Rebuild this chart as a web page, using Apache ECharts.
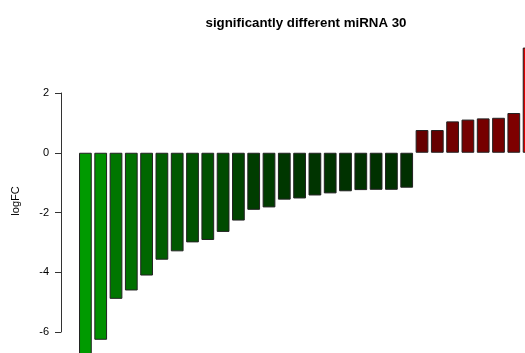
<!DOCTYPE html>
<html>
<head>
<meta charset="utf-8">
<script src="https://cdn.jsdelivr.net/npm/echarts@6/dist/echarts.min.js"></script>
<style>html,body{margin:0;padding:0;background:#fff}#c{width:525px;height:353px}</style>
</head>
<body>
<div id="c"></div>
<script>
var titleText = 'significantly different miRNA 30';
var yName = 'logFC';
var categories = [];
for (var i = 1; i <= 30; i++) categories.push('miRNA' + i);
var logFC = [-6.8, -6.26, -4.89, -4.61, -4.11, -3.58, -3.30, -3.00, -2.92, -2.65,
             -2.27, -1.91, -1.83, -1.57, -1.53, -1.43, -1.36, -1.29, -1.25, -1.24,
             -1.24, -1.17, 0.76, 0.76, 1.05, 1.11, 1.15, 1.17, 1.33, 3.52];
var yTicks = [-6, -4, -2, 0, 2];

function barColor(v) {
  var c;
  if (v < 0) {
    c = Math.min(255, Math.round(25 + 19 * Math.abs(v)));
    return 'rgb(0,' + c + ',0)';
  }
  c = Math.min(255, Math.round(69 + 43 * v));
  return 'rgb(' + c + ',0,0)';
}

var chart = echarts.init(document.getElementById('c'), null, {renderer: 'canvas'});
chart.setOption({
  animation: false,
  backgroundColor: '#fff',
  title: {
    text: titleText,
    left: 301, textAlign: 'center', top: 12,
    textStyle: {fontFamily: 'Liberation Sans', fontWeight: 'bold', fontSize: 13.3, color: '#000'}
  },
  graphic: [{
    type: 'text', x: 15.5, y: 201, rotation: Math.PI / 2,
    style: {text: yName, align: 'center', verticalAlign: 'middle',
            fontFamily: 'Liberation Sans', fontSize: 11, fill: '#000'}
  }],
  grid: {left: 77.75, top: 93, width: 459, height: 239, containLabel: false, outerBoundsMode: 'none'},
  xAxis: {
    type: 'category', data: categories, boundaryGap: true,
    axisLine: {show: false}, axisTick: {show: false}, axisLabel: {show: false}, splitLine: {show: false}
  },
  yAxis: {
    type: 'value', min: yTicks[0], max: yTicks[yTicks.length - 1], interval: 2,
    offset: 16.75,
    axisLine: {show: true, lineStyle: {color: '#333', width: 1}},
    axisTick: {show: true, length: 6, lineStyle: {color: '#333'}},
    axisLabel: {fontFamily: 'Liberation Sans', fontSize: 11, color: '#000', margin: 12},
    splitLine: {show: false}
  },
  series: [{
    type: 'bar',
    clip: false,
    barWidth: 12.75,
    data: logFC.map(function (v) {
      return {value: v, itemStyle: {color: barColor(v), borderColor: '#222', borderWidth: 1}};
    })
  }]
});
</script>
</body>
</html>
